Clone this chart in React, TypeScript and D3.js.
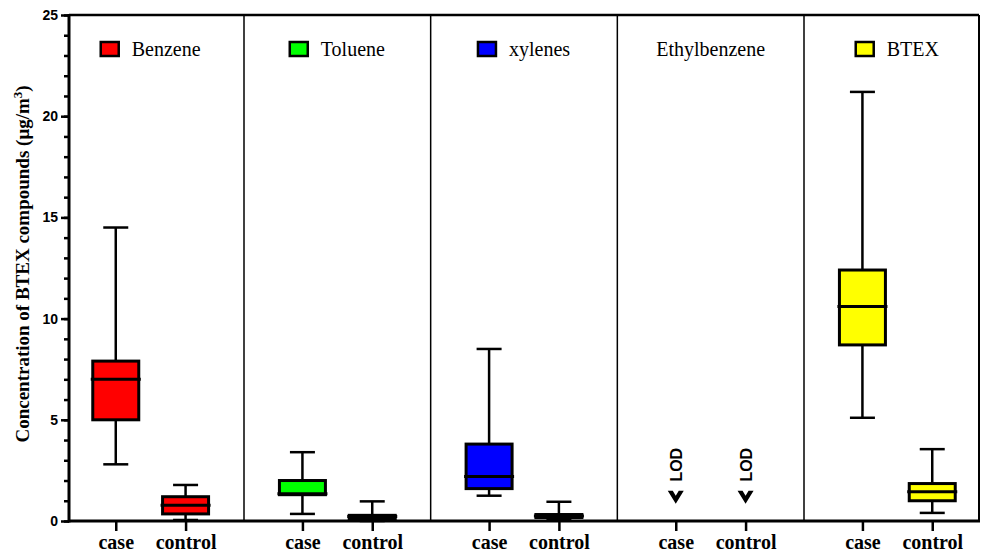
import React, { useEffect, useRef } from 'react';
import * as d3 from 'd3';

const compounds = ['Benzene', 'Toluene', 'xylenes', 'Ethylbenzene', 'BTEX'];
const fills = ['#ff0000', '#00ff00', '#0000ff', null, '#ffff00'];
const groupLabels = ['case', 'control'];

// box stats, one entry per compound (null = below LOD)
const caseMin = [2.8, 0.35, 1.25, null, 5.1];
const caseQ1 = [5.0, 1.3, 1.6, null, 8.7];
const caseMed = [7.0, 1.35, 2.2, null, 10.6];
const caseQ3 = [7.9, 2.0, 3.8, null, 12.4];
const caseMax = [14.5, 3.4, 8.5, null, 21.2];

const ctrlMin = [0.05, 0.0, 0.05, null, 0.4];
const ctrlQ1 = [0.35, 0.12, 0.17, null, 1.0];
const ctrlMed = [0.78, 0.22, 0.25, null, 1.45];
const ctrlQ3 = [1.2, 0.28, 0.32, null, 1.85];
const ctrlMax = [1.78, 0.97, 0.95, null, 3.55];

const lodMark = 1.2;
const majorTicks = [0, 5, 10, 15, 20, 25];
const minorTicks = d3.range(0, 26);

const W = 982, H = 552;

export default function App() {
  const ref = useRef<SVGSVGElement>(null);

  useEffect(() => {
    document.body.style.margin = '0';
    const svg = d3.select(ref.current);
    svg.selectAll('*').remove();

    const x = d3.scaleLinear().domain([-0.4375, 4.4375]).range([69, 979]);
    const y = d3.scaleLinear().domain([0, 25]).range([521, 15]);
    const off = 0.187;
    const boxW = 46, capW = 25;

    // panel separators
    svg.append('g').selectAll('line')
      .data(d3.range(1, compounds.length))
      .join('line')
      .attr('x1', d => x(d - 0.5)).attr('x2', d => x(d - 0.5))
      .attr('y1', y(25)).attr('y2', y(0))
      .attr('stroke', '#000').attr('stroke-width', 1.5);

    // frame
    svg.append('line').attr('x1', x(-0.4375)).attr('x2', x(4.4375))
      .attr('y1', y(25)).attr('y2', y(25)).attr('stroke', '#000').attr('stroke-width', 2.5);
    svg.append('line').attr('x1', x(4.4375)).attr('x2', x(4.4375))
      .attr('y1', y(25)).attr('y2', y(0)).attr('stroke', '#000').attr('stroke-width', 2);

    // y axis
    const yMinor = svg.append('g').attr('transform', `translate(${x(-0.4375)},0)`)
      .call(d3.axisLeft(y).tickValues(minorTicks).tickSize(5).tickFormat(() => ''));
    yMinor.select('.domain').remove();
    yMinor.selectAll('line').attr('stroke-width', 2.5);

    const yMajor = svg.append('g').attr('transform', `translate(${x(-0.4375)},0)`)
      .call(d3.axisLeft(y).tickValues(majorTicks).tickSize(8).tickPadding(3));
    yMajor.select('.domain').remove();
    yMajor.selectAll('line').attr('stroke-width', 2.5);
    yMajor.selectAll('text')
      .attr('font-family', 'Liberation Sans, Arial, sans-serif')
      .attr('font-weight', 'bold').attr('font-size', 14).attr('fill', '#000');

    svg.append('line').attr('x1', x(-0.4375)).attr('x2', x(-0.4375))
      .attr('y1', y(25) - 1).attr('y2', y(0) + 1.5).attr('stroke', '#000').attr('stroke-width', 3);

    // x axis
    const positions: { v: number; label: string }[] = [];
    compounds.forEach((_, i) => {
      positions.push({ v: i - off, label: groupLabels[0] });
      positions.push({ v: i + off, label: groupLabels[1] });
    });
    const xAxis = svg.append('g').attr('transform', `translate(0,${y(0)})`)
      .call(d3.axisBottom(x).tickValues(positions.map(p => p.v)).tickSize(10).tickPadding(8)
        .tickFormat((_, i) => positions[i].label));
    xAxis.select('.domain').remove();
    xAxis.selectAll('line').attr('stroke-width', 2.5);
    xAxis.selectAll('text')
      .attr('font-family', 'Liberation Serif, Times New Roman, serif')
      .attr('font-weight', 'bold').attr('font-size', 20).attr('fill', '#000')
      .attr('dy', null).attr('y', 28);
    svg.append('line').attr('x1', x(-0.4375) - 1).attr('x2', x(4.4375) + 1)
      .attr('y1', y(0)).attr('y2', y(0)).attr('stroke', '#000').attr('stroke-width', 3);

    // boxes
    const drawBox = (cx: number, mn: number, q1: number, md: number, q3: number, mx: number, fill: string) => {
      const g = svg.append('g');
      g.append('line').attr('x1', cx).attr('x2', cx).attr('y1', y(mn)).attr('y2', y(mx))
        .attr('stroke', '#000').attr('stroke-width', 2.5);
      [mn, mx].forEach(v => g.append('line')
        .attr('x1', cx - capW / 2).attr('x2', cx + capW / 2).attr('y1', y(v)).attr('y2', y(v))
        .attr('stroke', '#000').attr('stroke-width', 2.5));
      g.append('rect').attr('x', cx - boxW / 2).attr('width', boxW)
        .attr('y', y(q3)).attr('height', Math.max(0.5, y(q1) - y(q3)))
        .attr('fill', fill).attr('stroke', '#000').attr('stroke-width', 3);
      g.append('line').attr('x1', cx - boxW / 2 - 2).attr('x2', cx + boxW / 2 + 2)
        .attr('y1', y(md)).attr('y2', y(md)).attr('stroke', '#000').attr('stroke-width', 3);
    };

    compounds.forEach((_, i) => {
      if (caseMed[i] == null) return;
      drawBox(x(i - off), caseMin[i]!, caseQ1[i]!, caseMed[i]!, caseQ3[i]!, caseMax[i]!, fills[i]!);
      drawBox(x(i + off), ctrlMin[i]!, ctrlQ1[i]!, ctrlMed[i]!, ctrlQ3[i]!, ctrlMax[i]!, fills[i]!);
    });

    // LOD markers
    compounds.forEach((_, i) => {
      if (caseMed[i] != null) return;
      [i - off, i + off].forEach(v => {
        const cx = x(v), cy = y(lodMark);
        svg.append('path')
          .attr('d', `M${cx - 8},${cy - 6} L${cx - 3},${cy - 6} L${cx},${cy - 1} L${cx + 3},${cy - 6} L${cx + 8},${cy - 6} L${cx},${cy + 7} Z`)
          .attr('fill', '#000');
        svg.append('text')
          .attr('transform', `translate(${cx + 6},${cy - 32}) rotate(-90)`)
          .attr('text-anchor', 'middle')
          .attr('font-family', 'Liberation Sans, Arial, sans-serif')
          .attr('font-weight', 'bold').attr('font-size', 16).text('LOD');
      });
    });

    // legends
    compounds.forEach((name, i) => {
      const g = svg.append('g');
      let tx = 0;
      if (fills[i]) {
        g.append('rect').attr('x', 0).attr('y', 42).attr('width', 18).attr('height', 14)
          .attr('fill', fills[i]!).attr('stroke', '#000').attr('stroke-width', 2.5);
        tx = 31;
      }
      const t = g.append('text').attr('x', tx).attr('y', 56)
        .attr('font-family', 'Liberation Serif, Times New Roman, serif')
        .attr('font-size', 20).text(name);
      const w = tx + (t.node() as SVGTextElement).getComputedTextLength();
      g.attr('transform', `translate(${x(i) - w / 2},0)`);
    });

    // y label
    const yl = svg.append('text')
      .attr('transform', `translate(29,264) rotate(-90)`)
      .attr('text-anchor', 'middle')
      .attr('font-family', 'Liberation Serif, Times New Roman, serif')
      .attr('font-weight', 'bold').attr('font-size', 19);
    yl.append('tspan').text('Concentration of BTEX compounds (\u03bcg/m');
    yl.append('tspan').attr('baseline-shift', 'super').attr('font-size', 13).text('3');
    yl.append('tspan').text(')');
  }, []);

  return <svg ref={ref} width={W} height={H} style={{ display: 'block', background: '#fff' }} />;
}
